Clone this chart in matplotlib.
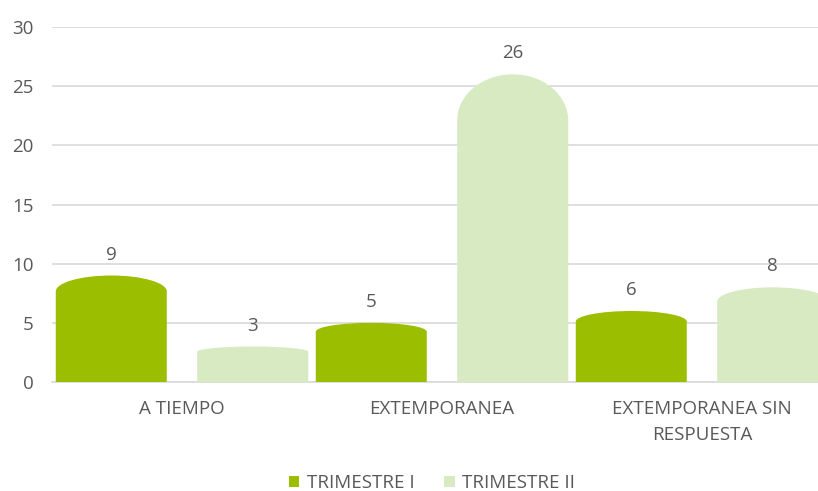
import matplotlib
matplotlib.use("Agg")
import matplotlib.pyplot as plt
from matplotlib.path import Path
from matplotlib.patches import PathPatch, Patch

categories = ["A TIEMPO", "EXTEMPORANEA", "EXTEMPORANEA SIN\nRESPUESTA"]
series_names = ["TRIMESTRE I", "TRIMESTRE II"]
trimestre_1 = [9, 5, 6]
trimestre_2 = [3, 26, 8]
y_ticks = [0, 5, 10, 15, 20, 25, 30]

colors = ["#9BBF00", "#D7EAC1"]
text_color = "#595959"
grid_color = "#D9D9D9"
fs = 13.5

plt.rcParams['font.family'] = ['Open Sans', 'DejaVu Sans']

fig = plt.figure(figsize=(8.18, 4.91), dpi=100)
ax = fig.add_axes([52/818, 1-382/491, 780/818, (382-27)/491])

bar_w = 0.427
offsets = [-0.272, 0.272]
k = 0.5523


def dome_bar(ax, xc, h, w, color):
    x0, x1 = xc - w/2, xc + w/2
    d = h * 0.15
    s = h - d
    verts = [
        (x0, 0), (x0, s),
        (x0, s + k*d), (xc - k*w/2, h), (xc, h),
        (xc + k*w/2, h), (x1, s + k*d), (x1, s),
        (x1, 0), (x0, 0),
    ]
    codes = [Path.MOVETO, Path.LINETO,
             Path.CURVE4, Path.CURVE4, Path.CURVE4,
             Path.CURVE4, Path.CURVE4, Path.CURVE4,
             Path.LINETO, Path.CLOSEPOLY]
    ax.add_patch(PathPatch(Path(verts, codes), facecolor=color, edgecolor='none', zorder=3))


for si, vals in enumerate([trimestre_1, trimestre_2]):
    for i, v in enumerate(vals):
        xc = i + offsets[si]
        dome_bar(ax, xc, v, bar_w, colors[si])
        ax.text(xc, v + 1.35, str(v), ha='center', va='baseline', fontsize=fs, color=text_color)

ax.set_xlim(-0.5, 2.5)
ax.set_ylim(0, 30)
ax.set_yticks(y_ticks)
ax.set_yticklabels([str(t) for t in y_ticks], fontsize=fs, color=text_color)
ax.set_xticks(range(len(categories)))
ax.set_xticklabels(categories, fontsize=fs, color=text_color, linespacing=1.6)
ax.tick_params(axis='both', which='both', length=0)
ax.tick_params(axis='y', pad=13)
ax.tick_params(axis='x', pad=13)
ax.grid(axis='y', color=grid_color, linewidth=1.2, zorder=0)
ax.set_axisbelow(True)
for sp in ['top', 'right', 'left']:
    ax.spines[sp].set_visible(False)
ax.spines['bottom'].set_color(grid_color)
ax.spines['bottom'].set_linewidth(1.2)

handles = [Patch(facecolor=colors[0], edgecolor='none'), Patch(facecolor=colors[1], edgecolor='none')]
fig.legend(handles, series_names, loc='center', bbox_to_anchor=(432/818, 1-483/491), ncol=2,
           frameon=False, fontsize=fs, labelcolor=text_color, handlelength=0.55, handleheight=0.55,
           handletextpad=0.4, columnspacing=1.6, borderpad=0)

fig.savefig("out.png", dpi=100)
